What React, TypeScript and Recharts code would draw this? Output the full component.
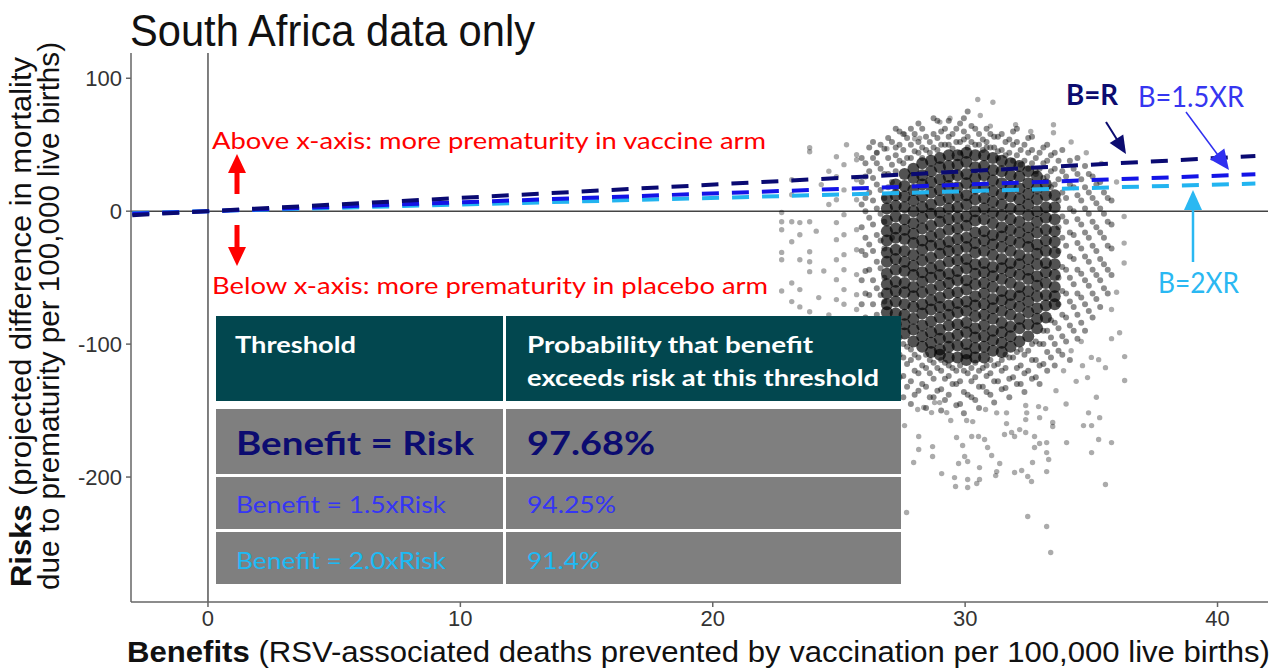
import React from "react";
import { ScatterChart, Scatter, XAxis, YAxis, ReferenceLine } from "recharts";

// ---- data ----
const xTicks = [0, 10, 20, 30, 40];
const yTicks = [-200, -100, 0, 100];

// dense core of the simulated cloud (benefit, [risk values])
const coreCols: [number, number[]][] = [
  [26.9, [10, 2, -7, -15, -22, -31, -38, -47, -55, -62, -70, -76]],
  [27.25, [20, 12, 4, -4, -13, -20, -29, -36, -44, -53, -60, -68, -77, -85]],
  [27.6, [28, 19, 11, 3, -6, -14, -21, -30, -38, -45, -54, -61, -70, -78, -85, -92]],
  [27.95, [32, 25, 16, 8, 0, -9, -17, -24, -33, -41, -48, -57, -64, -72, -81, -89, -98]],
  [28.3, [36, 27, 20, 11, 3, -5, -13, -22, -29, -37, -46, -53, -61, -70, -77, -86, -94, -102]],
  [28.65, [38, 30, 22, 14, 5, -2, -11, -19, -26, -35, -43, -50, -59, -67, -74, -83, -91, -99, -106]],
  [29.0, [40, 33, 24, 16, 8, -1, -8, -17, -25, -32, -41, -48, -56, -65, -72, -80, -89, -96, -104, -108]],
  [29.35, [42, 34, 26, 19, 10, 2, -6, -14, -23, -30, -38, -47, -54, -62, -71, -78, -86, -95, -102, -110]],
  [29.7, [42, 35, 27, 18, 11, 3, -5, -13, -21, -29, -37, -45, -52, -61, -69, -76, -85, -93, -101, -110]],
  [30.05, [44, 37, 28, 21, 12, 5, -4, -11, -20, -27, -36, -43, -52, -59, -68, -75, -84, -91, -100, -107, -112]],
  [30.4, [42, 33, 25, 17, 9, 0, -7, -16, -24, -31, -40, -47, -55, -64, -71, -79, -88, -95, -103, -110]],
  [30.75, [42, 34, 27, 18, 10, 2, -6, -15, -22, -30, -39, -46, -54, -62, -70, -78, -86, -94, -102, -110]],
  [31.1, [40, 31, 23, 15, 7, -1, -9, -18, -25, -33, -42, -49, -57, -66, -73, -81, -90, -97, -105]],
  [31.45, [38, 30, 21, 13, 5, -3, -12, -19, -27, -36, -43, -51, -60, -67, -75, -84, -91, -99, -106]],
  [31.8, [36, 27, 19, 11, 2, -6, -14, -22, -30, -39, -46, -54, -63, -70, -78, -87, -94, -102]],
  [32.15, [34, 26, 17, 9, 1, -8, -16, -24, -33, -40, -48, -57, -64, -72, -81, -88, -98]],
  [32.5, [30, 21, 13, 5, -3, -12, -20, -27, -36, -44, -51, -60, -68, -76, -85, -94]],
  [32.85, [26, 17, 9, 0, -8, -16, -25, -32, -40, -49, -56, -64, -73, -81, -88]],
  [33.2, [20, 12, 3, -5, -14, -22, -30, -39, -46, -54, -63, -71, -80]],
  [33.55, [12, 3, -6, -15, -23, -31, -40, -48, -57, -64, -70]],
];

// medium-density halo (two interleaved sets of columns)
const midCols: [number, number[]][] = [
  [25.9, [-70, -52, -30, -12, 5, 22, 40]],
  [26.2, [-85, -63, -44, -25, -5, 14, 30, 48]],
  [26.5, [-95, -78, -58, -38, -18, 2, 20, 36, 44]],
  [26.8, [-110, -90, -68, -50, -28, -8, 10, 28, 47]],
  [27.1, [-118, -100, -82, -20, 22, 35, 52]],
  [27.4, [-125, -108, -95, 38, 50, 60]],
  [27.7, [-132, -115, -102, 40, 55]],
  [28.0, [-138, -120, -108, 45, 58]],
  [28.3, [-130, -116, 48, 62, 40]],
  [28.6, [-140, -122, -112, 52, 44]],
  [28.9, [-135, -118, 55, 68, 46]],
  [29.2, [-142, -126, -114, 50, 62]],
  [29.5, [-130, -118, 58, 47]],
  [29.8, [-145, -128, -116, 52, 66, 44]],
  [30.1, [-138, -122, 56, 48, 75]],
  [30.4, [-142, -125, -114, 50, 62]],
  [30.7, [-132, -118, 54, 46]],
  [31.0, [-138, -122, -112, 48, 58]],
  [31.3, [-128, -115, 45, 56, 40]],
  [31.6, [-133, -118, -108, 42, 52]],
  [31.9, [-125, -110, 38, 50, 60]],
  [32.2, [-130, -116, -104, 35, 46]],
  [32.5, [-120, -105, 32, 44, 55]],
  [32.8, [-125, -112, -98, 28, 40, 30]],
  [33.1, [-115, -100, -90, 25, 36, 48]],
  [33.4, [-110, -95, -82, 18, 30, 42]],
  [33.7, [-105, -88, -70, -50, -30, -12, 8, 24, 38]],
  [34.0, [-98, -80, -62, -44, -26, -8, 10, 26]],
  [34.3, [-90, -72, -55, -36, -18, 0, 18, 32]],
  [34.6, [-84, -65, -47, -28, -10, 8, 24]],
  [34.9, [-75, -56, -38, -20, -2, 14, 28]],
  [35.2, [-66, -48, -30, -12, 6, 20]],
  [35.5, [-58, -40, -20, -2, 14]],
  [35.8, [-48, -28, -10, 8]],
];
const midCols2: [number, number[]][] = [
  [26.05, [-95, -80, -62, -45, -33, -20, 0, 10, 26, 36]],
  [26.35, [-104, -88, -70, -52, -30, -10, 8, 25, 40, 52]],
  [26.65, [-115, -100, -82, -63, -43, -22, -2, 16, 32, 50]],
  [26.95, [-125, -108, -92, -84, 18, 28, 40, 55]],
  [27.25, [-132, -118, -100, -92, 30, 42, 48, 62]],
  [27.55, [-140, -124, -110, -100, 36, 46, 58]],
  [27.85, [-145, -128, -112, -104, 40, 50, 62]],
  [28.15, [-135, -122, -110, 44, 52, 66]],
  [28.45, [-148, -132, -118, -108, 46, 56]],
  [28.75, [-140, -126, -114, 48, 58, 70]],
  [29.05, [-150, -134, -120, -112, 50, 60]],
  [29.35, [-138, -124, -116, 50, 56, 68]],
  [29.65, [-146, -130, -120, 52, 62]],
  [29.95, [-152, -136, -120, 54, 60, 70]],
  [30.25, [-140, -128, -118, 52, 64]],
  [30.55, [-148, -132, -120, 50, 58]],
  [30.85, [-136, -124, -116, 52, 62, 48]],
  [31.15, [-144, -128, -116, 48, 56]],
  [31.45, [-134, -120, -112, 46, 58]],
  [31.75, [-140, -126, -110, 44, 54]],
  [32.05, [-130, -118, -106, 42, 52, 62]],
  [32.35, [-136, -122, -108, 38, 50]],
  [32.65, [-126, -112, -100, 36, 46, 56]],
  [32.95, [-130, -116, -100, 32, 44]],
  [33.25, [-120, -106, -90, 26, 38, 50]],
  [33.55, [-116, -100, -84, 20, 32, 44]],
  [33.85, [-108, -94, -78, -60, -42, -20, -4, 14, 30, 46]],
  [34.15, [-112, -86, -68, -50, -34, -16, 2, 20, 38]],
  [34.45, [-96, -78, -62, -44, -24, -6, 12, 28, 40]],
  [34.75, [-90, -70, -52, -34, -16, 2, 18, 34]],
  [35.05, [-80, -62, -44, -26, -8, 10, 26]],
  [35.35, [-72, -52, -36, -16, 2, 22]],
  [35.65, [-62, -44, -26, -8, 10]],
];

// sparse outlying simulations
const sparsePts: [number, number][] = [
  [22.73, -1], [22.73, -8], [22.73, -14], [22.73, -31], [22.73, -36.5], [22.73, -60],
  [23.13, 23.7], [23.13, 12.4], [23.13, -8], [23.13, -23], [23.13, -54], [23.13, -68],
  [23.45, -8.6], [23.45, -17.7], [23.45, -36.5], [23.45, -59], [23.45, -72],
  [23.84, 47.7], [23.84, 44.7], [23.84, -8], [23.84, -30.5], [23.84, -38], [23.84, -45.5], [23.84, -75.6],
  [24.3, 20], [24.6, 5], [24.1, -15], [24.4, -45], [24.2, -65], [24.6, -78], [24.6, 30],
  [24.9, 41], [24.9, 26], [24.9, 8.6], [24.9, -8.6], [24.9, -21.4], [24.9, -36.5], [24.9, -51.5], [24.9, -66.5],
  [25.2, 35], [25.2, 16], [25.2, -2.6], [25.2, -17.7], [25.2, -32.7], [25.2, -44], [25.2, -59], [25.2, -70],
  [25.7, 42.5], [25.7, 38.7], [25.7, 23.7], [25.7, 8.6], [25.7, -13.9], [25.7, -29], [25.7, -47.7], [25.7, -62.8], [25.7, -74],
  [30.5, 84], [31.1, 82], [30.6, 72], [31.0, 64], [32.0, 65], [33.5, 65], [33.5, 59], [29.0, 67], [28.0, 54.5],
  [28.2, 55], [26.9, 47], [26.5, 44], [27.6, 58], [29.4, 70], [32.6, 60], [34.2, 52], [34.8, 44], [35.4, 36],
  [36.0, 22], [36.3, -4], [36.3, -24], [36.3, -39], [36.0, -61], [35.8, -74], [25.3, 50],
  [34.2, -105], [34.6, -98], [35.0, -110], [33.9, -120], [34.4, -128], [35.2, -140], [34.0, -145], [33.6, -135],
  [27.68, -226.7], [27.96, -189.1], [28.16, -179.3], [28.16, -169.5], [27.6, -161.3], [28.71, -177.1], [28.71, -184.6],
  [29.07, -197.4], [29.58, -200.4], [29.62, -207.1], [30.1, -201.9], [30.1, -207.9], [30.46, -204.9], [30.57, -201.9],
  [30.57, -192.9], [29.74, -189.8], [29.98, -184.6], [30.1, -188.3], [29.66, -170.3], [29.9, -176.3], [30.26, -169.5],
  [30.53, -169.5], [30.77, -171.8], [30.89, -177.8], [31.05, -183.8], [31.37, -189.8], [31.25, -195.9], [31.21, -198.9],
  [31.64, -159.8], [31.56, -168], [31.84, -166.5], [31.96, -169.5], [32.16, -164.3], [32.4, -166.5], [32.4, -156.8],
  [32.75, -169.5], [32.75, -177.8], [32.95, -174.8], [33.23, -174.1], [33.23, -181.6], [33.31, -186.8], [33.23, -195.9],
  [32.67, -189.1], [31.96, -196.6], [32.24, -195.1], [32.48, -199.6], [32.63, -203.4], [32.48, -229.7], [33.23, -237.2],
  [33.39, -256.8], [34.02, -174.1], [34.69, -161.3], [35.01, -161.3], [35.01, -181.6], [35.33, -155.3], [35.29, -171.8],
  [35.8, -174.1], [35.56, -205.6], [34.89, -151.7], [32.91, -147], [33.19, -148.5], [33.47, -159], [33.47, -162],
  [32.95, -155.3], [32.4, -146.2], [32.44, -151.7], [31.64, -151.7], [31.25, -151.7], [30.81, -149.2], [30.3, -158.3],
  [30.06, -157.5], [29.43, -157.5], [29.27, -151.5], [28.79, -144], [28.99, -144], [28.67, -151.5], [28.36, -147.7],
  [28.12, -149.2], [36.12, -91.4], [36.32, -109.4], [36.32, -127.4], [35.8, -95.9], [35.56, -117.7], [35.29, -111.7],
  [34.85, -125.2], [34.65, -116.2],
];

// threshold lines (benefit, risk) end points
const lineBR: [number, number][] = [[-3, -3], [41.5, 41.5]];
const lineB15R: [number, number][] = [[-3, -2], [41.5, 27.7]];
const lineB2R: [number, number][] = [[-3, -1.5], [41.5, 20.75]];

const tableRows = [
  { label: "Benefit = Risk", value: "97.68%" },
  { label: "Benefit = 1.5xRisk", value: "94.25%" },
  { label: "Benefit = 2.0xRisk", value: "91.4%" },
];

// ---- helpers ----
const colsToPts = (cols: [number, number[]][]) =>
  cols.flatMap(([x, ys]) => ys.map((y) => ({ x, y })));
const pairsToPts = (p: [number, number][]) => p.map(([x, y]) => ({ x, y }));

const NAVY = "#0c0c70";
const ARIAL = "'Liberation Sans', Arial, sans-serif";
const CAL = "Lato, 'Open Sans', sans-serif";

const dot = (r: number, op: number) => (props: any) =>
  props.cx == null ? <g /> : <circle cx={props.cx} cy={props.cy} r={r} fill="#000" fillOpacity={op} />;
const none = () => <g />;

function Arrow({ x1, y1, x2, y2, color, w, head, hw }: any) {
  const dx = x2 - x1, dy = y2 - y1;
  const len = Math.hypot(dx, dy);
  const ux = dx / len, uy = dy / len;
  const bx = x2 - ux * head, by = y2 - uy * head;
  const px = -uy, py = ux;
  return (
    <g>
      <line x1={x1} y1={y1} x2={bx + ux} y2={by + uy} stroke={color} strokeWidth={w} />
      <polygon
        points={`${x2},${y2} ${bx + px * hw},${by + py * hw} ${bx - px * hw},${by - py * hw}`}
        fill={color}
      />
    </g>
  );
}

export default function App() {
  const tickStyle = { fontSize: 22, fill: "#333", fontFamily: ARIAL };
  const rowY = [
    { top: 409, h: 65, base: 455, size: 33, bold: true, color: NAVY, lw: 238, vw: 128 },
    { top: 477, h: 52, base: 513, size: 24, bold: false, color: "#3535f5", lw: 210, vw: 89 },
    { top: 532, h: 52, base: 569, size: 24, bold: false, color: "#1cbaf5", lw: 210, vw: 73 },
  ];
  return (
    <div style={{ position: "absolute", left: 0, top: 0, width: 1280, height: 670, background: "#fff" }}>
      <ScatterChart width={1280} height={670} margin={{ top: 53, right: 12, bottom: 0, left: 0 }}>
        <XAxis
          type="number"
          dataKey="x"
          domain={[-3.05, 42]}
          ticks={xTicks}
          allowDataOverflow
          height={68}
          tick={tickStyle}
          tickSize={5}
          tickMargin={3}
          axisLine={{ stroke: "#666", strokeWidth: 1.5 }}
          tickLine={{ stroke: "#666", strokeWidth: 1.5 }}
        />
        <YAxis
          type="number"
          dataKey="y"
          domain={[-294, 119]}
          ticks={yTicks}
          allowDataOverflow
          width={131}
          tick={tickStyle}
          tickSize={5}
          tickMargin={4}
          axisLine={{ stroke: "#666", strokeWidth: 1.5 }}
          tickLine={{ stroke: "#666", strokeWidth: 1.5 }}
        />
        <ReferenceLine x={0} stroke="#555" strokeWidth={1.5} />
        <ReferenceLine y={0} stroke="#444" strokeWidth={1.5} />
        <Scatter data={colsToPts(midCols2)} shape={dot(3, 0.45)} isAnimationActive={false} />
        <Scatter data={colsToPts(midCols)} shape={dot(3, 0.45)} isAnimationActive={false} />
        <Scatter data={colsToPts(coreCols)} shape={dot(6, 0.68)} isAnimationActive={false} />
        <Scatter data={pairsToPts(sparsePts)} shape={dot(2.7, 0.33)} isAnimationActive={false} />
        <Scatter
          data={pairsToPts(lineB2R)}
          shape={none}
          line={{ stroke: "#22b4f0", strokeWidth: 4, strokeDasharray: "17 13" }}
          isAnimationActive={false}
        />
        <Scatter
          data={pairsToPts(lineB15R)}
          shape={none}
          line={{ stroke: "#1414e6", strokeWidth: 4, strokeDasharray: "17 13" }}
          isAnimationActive={false}
        />
        <Scatter
          data={pairsToPts(lineBR)}
          shape={none}
          line={{ stroke: "#0a0a72", strokeWidth: 4, strokeDasharray: "17 13" }}
          isAnimationActive={false}
        />
      </ScatterChart>

      <svg
        width={1280}
        height={670}
        style={{ position: "absolute", left: 0, top: 0, pointerEvents: "none" }}
      >
        {/* title */}
        <text x={130} y={46} fontFamily={ARIAL} fontSize={44} fill="#111" textLength={405} lengthAdjust="spacingAndGlyphs">
          South Africa data only
        </text>
        {/* axis titles */}
        <text x={127} y={662} fontFamily={ARIAL} fontSize={29} fill="#111" textLength={1143} lengthAdjust="spacingAndGlyphs">
          <tspan fontWeight="bold">Benefits</tspan> (RSV-associated deaths prevented by vaccination per 100,000 live births)
        </text>
        <text
          transform="translate(31,322) rotate(-90)"
          textAnchor="middle"
          fontFamily={ARIAL}
          fontSize={29}
          fill="#111"
          textLength={530}
          lengthAdjust="spacingAndGlyphs"
        >
          <tspan fontWeight="bold">Risks</tspan> (projected difference in mortality
        </text>
        <text
          transform="translate(59,316) rotate(-90)"
          textAnchor="middle"
          fontFamily={ARIAL}
          fontSize={29}
          fill="#111"
          textLength={548}
          lengthAdjust="spacingAndGlyphs"
        >
          due to prematurity per 100,000 live births)
        </text>

        {/* red annotations */}
        <text x={212} y={149} fontFamily={CAL} fontSize={24} fill="#ff0000" textLength={554} lengthAdjust="spacingAndGlyphs">
          Above x-axis: more prematurity in vaccine arm
        </text>
        <text x={212} y={294} fontFamily={CAL} fontSize={24} fill="#ff0000" textLength={556} lengthAdjust="spacingAndGlyphs">
          Below x-axis: more prematurity in placebo arm
        </text>
        <Arrow x1={237} y1={194} x2={237} y2={154} color="#ff0000" w={5} head={19} hw={9} />
        <Arrow x1={237} y1={225} x2={237} y2={266} color="#ff0000" w={5} head={19} hw={9} />

        {/* line labels */}
        <text x={1066} y={105} fontFamily={CAL} fontWeight="bold" fontSize={28} fill={NAVY} textLength={52} lengthAdjust="spacingAndGlyphs">
          B=R
        </text>
        <text x={1138} y={107} fontFamily={CAL} fontSize={29} fill="#3636f0" textLength={106} lengthAdjust="spacingAndGlyphs">
          B=1.5XR
        </text>
        <text x={1158} y={293} fontFamily={CAL} fontSize={29} fill="#2ab8f2" textLength={81} lengthAdjust="spacingAndGlyphs">
          B=2XR
        </text>
        <Arrow x1={1106} y1={122} x2={1126} y2={154} color={NAVY} w={2} head={18} hw={8} />
        <Arrow x1={1186} y1={112} x2={1229} y2={170} color="#3030f0" w={1.5} head={20} hw={9} />
        <Arrow x1={1193} y1={262} x2={1193} y2={190} color="#2ab8f2" w={2.5} head={20} hw={9} />

        {/* table */}
        <rect x={216} y={316} width={287} height={85} fill="#02474f" />
        <rect x={506} y={316} width={395} height={85} fill="#02474f" />
        <text x={235} y={353} fontFamily={CAL} fontWeight="bold" fontSize={23} fill="#fff" textLength={121} lengthAdjust="spacingAndGlyphs">
          Threshold
        </text>
        <text x={527} y={353} fontFamily={CAL} fontWeight="bold" fontSize={23} fill="#fff" textLength={286} lengthAdjust="spacingAndGlyphs">
          Probability that benefit
        </text>
        <text x={527} y={386} fontFamily={CAL} fontWeight="bold" fontSize={23} fill="#fff" textLength={352} lengthAdjust="spacingAndGlyphs">
          exceeds risk at this threshold
        </text>
        {tableRows.map((r, i) => {
          const s = rowY[i];
          return (
            <g key={r.label}>
              <rect x={216} y={s.top} width={287} height={s.h} fill="#7f7f7f" />
              <rect x={506} y={s.top} width={395} height={s.h} fill="#7f7f7f" />
              <text
                x={236}
                y={s.base}
                fontFamily={CAL}
                fontWeight={s.bold ? "bold" : "normal"}
                fontSize={s.size}
                fill={s.color}
                textLength={s.lw}
                lengthAdjust="spacingAndGlyphs"
              >
                {r.label}
              </text>
              <text
                x={527}
                y={s.base}
                fontFamily={CAL}
                fontWeight={s.bold ? "bold" : "normal"}
                fontSize={s.size}
                fill={s.color}
                textLength={s.vw}
                lengthAdjust="spacingAndGlyphs"
              >
                {r.value}
              </text>
            </g>
          );
        })}
      </svg>
    </div>
  );
}
